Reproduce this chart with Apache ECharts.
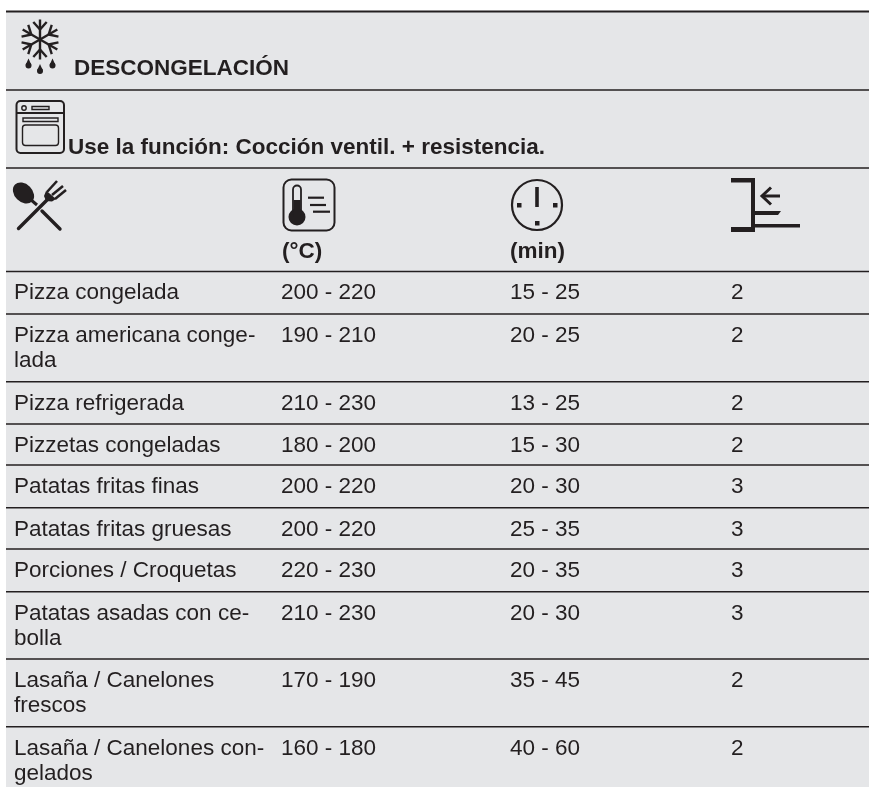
<!DOCTYPE html>
<html><head><meta charset="utf-8">
<style>html,body{margin:0;padding:0;background:#fff}#c{width:869px;height:787px}</style>
<script src="https://cdn.jsdelivr.net/npm/echarts@6/dist/echarts.min.js"></script>
</head><body><div id="c"></div>
<script>
var sectionTitle = 'DESCONGELACIÓN';
var functionNote = 'Use la función: Cocción ventil. + resistencia.';
var tempUnit = '(°C)';
var timeUnit = '(min)';
var foods = ['Pizza congelada','Pizza americana conge-\nlada','Pizza refrigerada','Pizzetas congeladas','Patatas fritas finas','Patatas fritas gruesas','Porciones / Croquetas','Patatas asadas con ce-\nbolla','Lasaña / Canelones\nfrescos','Lasaña / Canelones con-\ngelados'];
var temps = ['200 - 220','190 - 210','210 - 230','180 - 200','200 - 220','200 - 220','220 - 230','210 - 230','170 - 190','160 - 180'];
var times = ['15 - 25','20 - 25','13 - 25','15 - 30','20 - 30','25 - 35','20 - 35','20 - 30','35 - 45','40 - 60'];
var levels = ['2','2','2','2','3','3','3','3','2','2'];

var INK = '#231f20', BG = '#e5e6e8';
var FONT = '"Liberation Sans", Arial, sans-serif';
var ruleYs = [90, 168, 271.5, 314, 381.7, 424, 465, 507.7, 549, 591.7, 659, 726.7];
var rowTops = ruleYs.slice(2);
var colX = [14, 281, 510, 731];
var LEFT = 6, RIGHT = 869;
var els = [];
var F = 22.5, LH = 25.5;

function line(x1,y1,x2,y2,w,cap){els.push({type:'line',shape:{x1:x1,y1:y1,x2:x2,y2:y2},style:{stroke:INK,lineWidth:w,lineCap:cap||'butt'},silent:true});}
function box(x,y,w,h,r,lw,fill){els.push({type:'rect',shape:{x:x,y:y,width:w,height:h,r:r||0},style:lw?{fill:'none',stroke:INK,lineWidth:lw}:{fill:fill||INK},silent:true});}
function disc(x,y,r){els.push({type:'circle',shape:{cx:x,cy:y,r:r},style:{fill:INK},silent:true});}
function poly(pts,w,closed){
  if(closed){els.push({type:'polygon',shape:{points:pts},style:{fill:INK},silent:true});}
  else{els.push({type:'polyline',shape:{points:pts},style:{fill:'none',stroke:INK,lineWidth:w,lineJoin:'miter'},silent:true});}
}
function text(str,x,y,size,weight){
  els.push({type:'text',x:x,y:y,silent:true,style:{text:str,fill:INK,font:(weight||'normal')+' '+size+'px '+FONT,textAlign:'left',textVerticalAlign:'top',lineHeight:LH}});
}
function baseTop(b,size){return b-LH/2-size*0.345+2;}

box(LEFT,11,RIGHT-LEFT,776,0,0,BG);
line(LEFT,11.5,RIGHT,11.5,2);
ruleYs.forEach(function(y){line(LEFT,y,RIGHT,y,1.6);});

text(sectionTitle,74,baseTop(75,F),F,'bold');
text(functionNote,68,baseTop(154,F),F,'bold');
text(tempUnit,282,baseTop(258,F),F,'bold');
text(timeUnit,510,baseTop(258,F),F,'bold');

foods.forEach(function(name,i){
  var t = baseTop(rowTops[i]+27.5,F);
  text(name,colX[0],t,F);
  text(temps[i],colX[1],t,F);
  text(times[i],colX[2],t,F);
  text(levels[i],colX[3],t,F);
});

// snowflake
(function(){
  var cx=40,cy=39.5,L=20;
  [90,30,-30,-90,-150,150].forEach(function(a){
    var r=a*Math.PI/180,dx=Math.cos(r),dy=-Math.sin(r);
    line(cx,cy,cx+dx*L,cy+dy*L,2.4);
    var bx=cx+dx*L*0.5,by=cy+dy*L*0.5;
    [42,-42].forEach(function(o){
      var q=(a+o)*Math.PI/180;
      line(bx,by,bx+Math.cos(q)*10,by-Math.sin(q)*10,2.4);
    });
  });
  [[28.5,65.5],[40,71],[52.5,65.5]].forEach(function(p){
    disc(p[0],p[1],3);
    poly([[p[0]-2.8,p[1]-0.8],[p[0],p[1]-7],[p[0]+2.8,p[1]-0.8]],0,true);
  });
})();

// oven
box(16.5,101,47.5,52,4,2);
line(16,113,64,113,2);
els.push({type:'circle',shape:{cx:24,cy:108,r:2.2},style:{fill:'none',stroke:INK,lineWidth:1.4},silent:true});
box(32,106.5,17,3,0,1.4);
box(23,118,35,3.5,0,1.4);
box(22.5,125,36,20.5,3,1.4);

// spoon + fork
els.push({type:'circle',shape:{cx:0,cy:0,r:1},x:23.5,y:193,scaleX:12,scaleY:9,rotation:-Math.PI/4,style:{fill:INK},silent:true});
line(30,199,37,205,3);
line(42,211,60,229,3.4,'round');
line(18.5,228.5,47,200,3.4,'round');
line(47,192,57,181,2.6);
line(52,195,63,186,2.6);
line(55,199,66,190,2.6);
poly([[46,191],[44,196],[46,201],[52,201.5],[56,199],[49,193]],0,true);

// thermometer
box(283.5,179.5,51,51,8,2);
disc(297,217,8.5);
box(293,185.5,8,30,4,1.8);
box(293.5,200,7,17,0,0);
line(308,197.7,324,197.7,2.2);
line(310,205,326,205,2.2);
line(313,211.7,330,211.7,2.2);

// clock
els.push({type:'circle',shape:{cx:537,cy:205,r:25},style:{fill:'none',stroke:INK,lineWidth:2.2},silent:true});
line(537,187,537,207,3.6);
box(517,203,4.5,4.5); box(553,203,4.5,4.5); box(535,221,4.5,4.5);

// shelf level
box(731,178,23,4.5);
box(751,178,4,54);
box(731,227,24,5);
box(755,224,45,3.5);
poly([[755,211],[781,211],[778,215],[755,215]],0,true);
line(762,196,780,196,3);
poly([[771,187.5],[762,196],[771,204.5]],3);

var chart = echarts.init(document.getElementById('c'),null,{renderer:'canvas',width:869,height:787});
chart.setOption({animation:false,backgroundColor:'#ffffff',graphic:{elements:els}});
</script></body></html>
